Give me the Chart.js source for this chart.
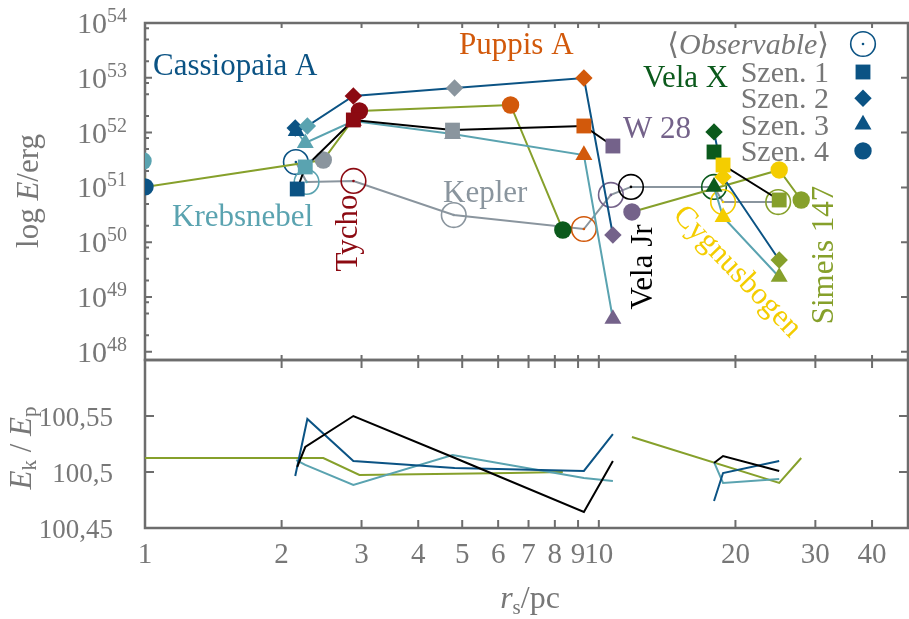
<!DOCTYPE html>
<html>
<head>
<meta charset="utf-8">
<script src="https://cdn.jsdelivr.net/npm/chart.js@4.4.0/dist/chart.umd.min.js"></script>
<style>
  html, body { margin: 0; padding: 0; background: #fff; }
  canvas { display: block; }
</style>
</head>
<body>
<canvas id="myChart" width="909" height="619"></canvas>
<script>
// Supernova remnants, ordered by observed radius
const remnants = ['Cassiopaia A', 'Krebsnebel', 'Tycho', 'Kepler', 'Puppis A', 'W 28', 'Vela Jr', 'Vela X', 'Cygnusbogen', 'Simeis 147'];

// observable values (open circles, grey line)
const obsR = [2.15, 2.27, 2.88, 4.79, 9.27, 10.63, 11.77, 17.94, 18.78, 24.84];
const obsE = [2.9e51, 1.26e51, 1.31e51, 3.13e50, 1.74e50, 7.3e50, 1.02e51, 1.02e51, 5.4e50, 5.4e50];

// Szenario 1 (squares)
const s1R = [2.165, 2.255, 2.878, 4.76, 9.27, 10.74, null, 17.94, 18.78, 24.97];
const s1E = [9.35e50, 2.36e51, 1.70e52, 1.11e52, 1.32e52, 5.69e51, null, 4.43e51, 2.56e51, 5.89e50];
const s1Ratio = [100.5045, 100.5223, 100.55, 100.5134, 100.4643, 100.5098, null, 100.508, 100.5143, 100.5009];

// Szenario 2 (diamonds)
const s2R = [2.143, 2.279, 2.878, 4.81, 9.27, 10.74, null, 17.94, 18.78, 24.97];
const s2E = [1.21e52, 1.32e52, 4.65e52, 6.51e52, 9.9e52, 1.35e50, null, 1.03e52, 1.55e51, 4.73e49];
const s2Ratio = [100.4964, 100.5473, 100.5098, 100.5036, 100.5009, 100.5339, null, 100.4741, 100.4991, 100.5098];

// Szenario 3 (triangles)
const s3R = [2.154, 2.255, 2.878, 4.76, 9.27, 10.74, null, 17.94, 18.78, 24.97];
const s3E = [1.07e52, 6.46e51, 1.63e52, 9.43e51, 3.90e51, 3.97e48, null, 1.02e51, 2.88e50, 2.32e49];
const s3Ratio = [100.5107, 100.5063, 100.4884, 100.5152, 100.4946, 100.492, null, 100.5089, 100.4902, 100.4938];

// Szenario 4 (circles)
const s4R = [1.0, 0.99, 2.968, 2.471, 6.39, 11.83, null, 8.33, 24.97, 27.92];
const s4E = [1.02e51, 3.03e51, 2.48e52, 3.16e51, 3.19e52, 3.56e50, null, 1.67e50, 2.08e51, 5.89e50];
const s4Ratio = [100.5125, 100.5125, 100.4973, 100.5125, 100.4991, 100.5313, null, 100.5, 100.4902, 100.5125];

// axis ticks
const xTicks = [1, 2, 3, 4, 5, 6, 7, 8, 9, 10, 20, 30, 40];
const topExponents = [48, 49, 50, 51, 52, 53, 54];
const bottomTicks = [100.45, 100.5, 100.55];
const bottomTickLabels = ['100,45', '100,5', '100,55'];
const legendLabels = ['Szen. 1', 'Szen. 2', 'Szen. 3', 'Szen. 4'];

const COLORS = {
    'Cassiopaia A': '#0b5384',
    'Krebsnebel': '#5aa3b0',
    'Tycho': '#8c0a12',
    'Kepler': '#8a959e',
    'Puppis A': '#d2590b',
    'W 28': '#74628a',
    'Vela Jr': '#000000',
    'Vela X': '#0b5a1c',
    'Cygnusbogen': '#f4cd00',
    'Simeis 147': '#86a02b'
};
const FONT = '"Liberation Serif", "DejaVu Serif", serif';
const GREY = '#777777';
const AXIS = '#6d6d6d';

// sort a series by its own radius; missing entries keep the observed radius so the line breaks there
function series(rArr, vArr) {
    const order = remnants.map((_, i) => i)
        .sort((a, b) => (rArr[a] ?? obsR[a]) - (rArr[b] ?? obsR[b]));
    return {
        data: order.map(i => ({ x: rArr[i] ?? obsR[i], y: vArr[i] })),
        colors: order.map(i => COLORS[remnants[i]])
    };
}

const scenarios = [
    { r: s1R, e: s1E, q: s1Ratio, line: '#000000', style: 'rect', radius: 10.5 },
    { r: s2R, e: s2E, q: s2Ratio, line: COLORS['Cassiopaia A'], style: 'rectRot', radius: 8.7 },
    { r: s3R, e: s3E, q: s3Ratio, line: COLORS['Krebsnebel'], style: 'triangle', radius: 9.8 },
    { r: s4R, e: s4E, q: s4Ratio, line: COLORS['Simeis 147'], style: 'circle', radius: 8.7 }
];

const datasets = [];
for (const s of scenarios) {
    const top = series(s.r, s.e);
    datasets.push({
        data: top.data, yAxisID: 'yT', showLine: true, spanGaps: false,
        borderColor: s.line, borderWidth: 2,
        pointStyle: s.style, pointRadius: s.radius,
        pointBackgroundColor: top.colors, pointBorderColor: top.colors, pointBorderWidth: 0
    });
}
const obs = series(obsR, obsE);
datasets.push({
    data: obs.data, yAxisID: 'yT', showLine: false,
    pointStyle: 'circle', pointRadius: 12.3, pointBorderWidth: 1.6,
    pointBackgroundColor: 'rgba(0,0,0,0)', pointBorderColor: obs.colors
});
datasets.push({
    data: obs.data, yAxisID: 'yT', showLine: true,
    borderColor: COLORS['Kepler'], borderWidth: 2,
    pointStyle: 'circle', pointRadius: 1.3, pointBorderWidth: 0,
    pointBackgroundColor: obs.colors
});
for (const s of scenarios) {
    const bot = series(s.r, s.q);
    datasets.push({
        data: bot.data, yAxisID: 'yB', showLine: true, spanGaps: false,
        borderColor: s.line, borderWidth: 2, pointRadius: 0
    });
}

// remnant names written into the plot
const nameLabels = [
    { text: 'Cassiopaia A', x: 153, y: 75, rot: 0 },
    { text: 'Puppis A', x: 459, y: 54, rot: 0 },
    { text: 'Vela X', x: 643, y: 87, rot: 0 },
    { text: 'W 28', x: 623, y: 138, rot: 0 },
    { text: 'Krebsnebel', x: 172, y: 226, rot: 0 },
    { text: 'Kepler', x: 443, y: 202, rot: 0 },
    { text: 'Tycho', x: 349, y: 233, rot: -90 },
    { text: 'Vela Jr', x: 644, y: 267, rot: -90 },
    { text: 'Simeis 147', x: 825, y: 255, rot: -90 },
    { text: 'Cygnusbogen', x: 737, y: 272, rot: 46 }
];

function richText(ctx, parts, x, y, align) {
    let w = 0;
    for (const p of parts) { ctx.font = p.font; w += ctx.measureText(p.t).width; }
    let cx = align === 'right' ? x - w : align === 'center' ? x - w / 2 : x;
    ctx.textAlign = 'left';
    ctx.textBaseline = 'alphabetic';
    for (const p of parts) {
        ctx.font = p.font;
        ctx.fillText(p.t, cx, y + (p.dy || 0));
        cx += ctx.measureText(p.t).width;
    }
}

function marker(ctx, style, x, y, r) {
    ctx.beginPath();
    if (style === 'rect') {
        const h = r * Math.SQRT1_2;
        ctx.rect(x - h, y - h, 2 * h, 2 * h);
    } else if (style === 'rectRot') {
        ctx.moveTo(x, y - r); ctx.lineTo(x + r, y); ctx.lineTo(x, y + r); ctx.lineTo(x - r, y); ctx.closePath();
    } else if (style === 'triangle') {
        for (let k = 0; k < 3; k++) {
            const a = -Math.PI / 2 + k * 2 * Math.PI / 3;
            k === 0 ? ctx.moveTo(x + r * Math.cos(a), y + r * Math.sin(a)) : ctx.lineTo(x + r * Math.cos(a), y + r * Math.sin(a));
        }
        ctx.closePath();
    } else {
        ctx.arc(x, y, r, 0, 2 * Math.PI);
    }
}

const framePlugin = {
    id: 'frame',
    beforeDatasetsDraw(chart) {
        const ctx = chart.ctx;
        const { left, right } = chart.chartArea;
        const x = chart.scales.x, yT = chart.scales.yT, yB = chart.scales.yB;
        ctx.save();
        ctx.strokeStyle = AXIS;
        ctx.lineWidth = 2.5;
        ctx.strokeRect(left, yT.top, right - left, yT.bottom - yT.top);
        ctx.strokeRect(left, yB.top, right - left, yB.bottom - yB.top);
        ctx.lineWidth = 2;
        ctx.beginPath();
        for (const v of xTicks) {
            const px = x.getPixelForValue(v);
            ctx.moveTo(px, yT.top); ctx.lineTo(px, yT.top + 5);
            ctx.moveTo(px, yT.bottom); ctx.lineTo(px, yT.bottom - 5);
            ctx.moveTo(px, yB.top); ctx.lineTo(px, yB.top + 8);
            ctx.moveTo(px, yB.bottom); ctx.lineTo(px, yB.bottom - 8);
        }
        for (const k of topExponents) {
            const py = yT.getPixelForValue(Math.pow(10, k));
            ctx.moveTo(left, py); ctx.lineTo(left + 7, py);
            ctx.moveTo(right, py); ctx.lineTo(right - 7, py);
            for (const m of [2, 5, 8]) {
                const pm = yT.getPixelForValue(m * Math.pow(10, k));
                if (pm > yT.top && pm < yT.bottom) { ctx.moveTo(left, pm); ctx.lineTo(left + 4, pm); }
            }
        }
        for (const v of bottomTicks) {
            const py = yB.getPixelForValue(v);
            ctx.moveTo(left, py); ctx.lineTo(left + 9, py);
            ctx.moveTo(right, py); ctx.lineTo(right - 9, py);
        }
        ctx.stroke();
        ctx.restore();
    },
    afterDraw(chart) {
        const ctx = chart.ctx;
        const yT = chart.scales.yT, yB = chart.scales.yB;
        ctx.save();
        ctx.fillStyle = GREY;
        // y tick labels, top panel
        for (const k of topExponents) {
            const py = yT.getPixelForValue(Math.pow(10, k));
            richText(ctx, [
                { t: '10', font: '30px ' + FONT, dy: 10 },
                { t: String(k), font: '20px ' + FONT, dy: -1 }
            ], 127, py, 'right');
        }
        // y tick labels, bottom panel
        bottomTicks.forEach((v, i) => {
            richText(ctx, [{ t: bottomTickLabels[i], font: '27px ' + FONT, dy: 10 }], 113, yB.getPixelForValue(v), 'right');
        });
        // axis titles
        richText(ctx, [
            { t: 'r', font: 'italic 32px ' + FONT },
            { t: 's', font: '21px ' + FONT, dy: 6 },
            { t: '/pc', font: '32px ' + FONT }
        ], 530, 608, 'center');
        ctx.save();
        ctx.translate(28, 191);
        ctx.rotate(-Math.PI / 2);
        richText(ctx, [
            { t: 'log ', font: '31px ' + FONT },
            { t: 'E', font: 'italic 31px ' + FONT },
            { t: '/erg', font: '31px ' + FONT }
        ], 0, 10, 'center');
        ctx.restore();
        ctx.save();
        ctx.translate(21, 448);
        ctx.rotate(-Math.PI / 2);
        richText(ctx, [
            { t: 'E', font: 'italic 31px ' + FONT },
            { t: 'k', font: '21px ' + FONT, dy: 5 },
            { t: ' / ', font: '31px ' + FONT },
            { t: 'E', font: 'italic 31px ' + FONT },
            { t: 'p', font: '21px ' + FONT, dy: 5 }
        ], 0, 10, 'center');
        ctx.restore();

        // remnant names
        for (const lab of nameLabels) {
            ctx.fillStyle = COLORS[lab.text];
            ctx.font = '31px ' + FONT;
            if (lab.rot === 0) {
                ctx.textAlign = 'left';
                ctx.textBaseline = 'alphabetic';
                ctx.fillText(lab.text, lab.x, lab.y);
            } else {
                ctx.save();
                ctx.translate(lab.x, lab.y);
                ctx.rotate(lab.rot * Math.PI / 180);
                ctx.textAlign = 'center';
                ctx.textBaseline = 'middle';
                ctx.fillText(lab.text, 0, 0);
                ctx.restore();
            }
        }

        // legend
        const legX = 863;
        ctx.fillStyle = GREY;
        richText(ctx, [
            { t: '\u27E8', font: '30px ' + FONT },
            { t: 'Observable', font: 'italic 30px ' + FONT },
            { t: '\u27E9', font: '30px ' + FONT }
        ], 829, 54, 'right');
        ctx.strokeStyle = COLORS['Cassiopaia A'];
        ctx.lineWidth = 1.6;
        marker(ctx, 'circle', legX, 44, 12.3);
        ctx.stroke();
        ctx.fillStyle = COLORS['Cassiopaia A'];
        marker(ctx, 'circle', legX, 44, 1.3);
        ctx.fill();
        legendLabels.forEach((txt, i) => {
            const ly = 72 + i * 26.3;
            ctx.fillStyle = GREY;
            richText(ctx, [{ t: txt, font: '30px ' + FONT }], 829, ly + 10, 'right');
            ctx.fillStyle = COLORS['Cassiopaia A'];
            marker(ctx, scenarios[i].style, legX, ly, scenarios[i].radius);
            ctx.fill();
        });
        ctx.restore();
    }
};

const config = {
    type: 'scatter',
    data: { datasets: datasets },
    options: {
        responsive: false,
        animation: false,
        events: [],
        layout: { autoPadding: false, padding: { top: 23, right: 1, left: 0, bottom: 0 } },
        plugins: { legend: { display: false }, tooltip: { enabled: false } },
        scales: {
            x: {
                type: 'logarithmic', min: 1, max: 48,
                grid: { display: false, drawTicks: false },
                border: { display: false },
                afterBuildTicks: s => { s.ticks = xTicks.map(v => ({ value: v })); },
                afterFit: s => { s.height = 91; s.paddingLeft = 0; s.paddingRight = 0; },
                ticks: {
                    autoSkip: false, maxRotation: 0, minRotation: 0, padding: 10,
                    color: GREY, font: { family: FONT, size: 29 },
                    callback: v => String(v)
                }
            },
            yB: {
                type: 'linear', min: 100.45, max: 100.6,
                stack: 'panels', stackWeight: 168, position: 'left',
                grid: { display: false, drawTicks: false }, border: { display: false },
                ticks: { display: false },
                afterFit: s => { s.width = 145; s.paddingTop = 0; s.paddingBottom = 0; }
            },
            yT: {
                type: 'logarithmic', min: Math.pow(10, 47.85), max: 1e54,
                stack: 'panels', stackWeight: 337, position: 'left',
                grid: { display: false, drawTicks: false }, border: { display: false },
                ticks: { display: false },
                afterFit: s => { s.width = 145; s.paddingTop = 0; s.paddingBottom = 0; }
            }
        }
    },
    plugins: [framePlugin]
};

const myChart = new Chart(document.getElementById('myChart'), config);
</script>
</body>
</html>
